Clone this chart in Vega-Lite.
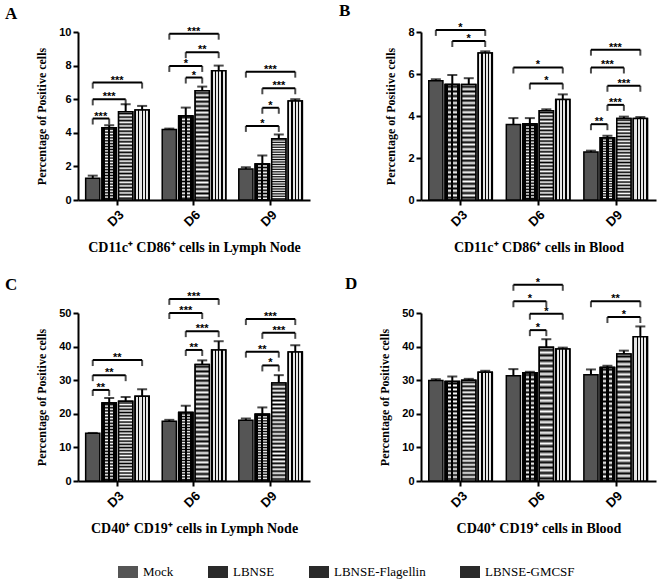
{
  "$schema": "https://vega.github.io/schema/vega-lite/v6.json",
  "background": "white",
  "padding": {"left": 5, "top": 1, "right": 5, "bottom": 5},
  "datasets": {
    "bars": [
      {"panel":"A","day":"D3","treatment":"Mock","mean":1.3,"upper":1.45},
      {"panel":"A","day":"D3","treatment":"LBNSE","mean":4.3,"upper":4.45},
      {"panel":"A","day":"D3","treatment":"LBNSE-Flagellin","mean":5.25,"upper":5.7},
      {"panel":"A","day":"D3","treatment":"LBNSE-GMCSF","mean":5.35,"upper":5.6},
      {"panel":"A","day":"D6","treatment":"Mock","mean":4.2,"upper":4.25},
      {"panel":"A","day":"D6","treatment":"LBNSE","mean":5.0,"upper":5.5},
      {"panel":"A","day":"D6","treatment":"LBNSE-Flagellin","mean":6.5,"upper":6.75},
      {"panel":"A","day":"D6","treatment":"LBNSE-GMCSF","mean":7.7,"upper":8.0},
      {"panel":"A","day":"D9","treatment":"Mock","mean":1.85,"upper":1.95},
      {"panel":"A","day":"D9","treatment":"LBNSE","mean":2.15,"upper":2.65},
      {"panel":"A","day":"D9","treatment":"LBNSE-Flagellin","mean":3.65,"upper":3.9},
      {"panel":"A","day":"D9","treatment":"LBNSE-GMCSF","mean":5.9,"upper":6.0},
      {"panel":"B","day":"D3","treatment":"Mock","mean":5.68,"upper":5.75},
      {"panel":"B","day":"D3","treatment":"LBNSE","mean":5.5,"upper":5.95},
      {"panel":"B","day":"D3","treatment":"LBNSE-Flagellin","mean":5.5,"upper":5.8},
      {"panel":"B","day":"D3","treatment":"LBNSE-GMCSF","mean":7.0,"upper":7.08},
      {"panel":"B","day":"D6","treatment":"Mock","mean":3.6,"upper":3.9},
      {"panel":"B","day":"D6","treatment":"LBNSE","mean":3.62,"upper":3.9},
      {"panel":"B","day":"D6","treatment":"LBNSE-Flagellin","mean":4.25,"upper":4.32},
      {"panel":"B","day":"D6","treatment":"LBNSE-GMCSF","mean":4.78,"upper":5.03},
      {"panel":"B","day":"D9","treatment":"Mock","mean":2.28,"upper":2.35},
      {"panel":"B","day":"D9","treatment":"LBNSE","mean":2.97,"upper":3.06},
      {"panel":"B","day":"D9","treatment":"LBNSE-Flagellin","mean":3.88,"upper":3.97},
      {"panel":"B","day":"D9","treatment":"LBNSE-GMCSF","mean":3.88,"upper":3.95},
      {"panel":"C","day":"D3","treatment":"Mock","mean":14.2,"upper":14.3},
      {"panel":"C","day":"D3","treatment":"LBNSE","mean":23.2,"upper":24.7},
      {"panel":"C","day":"D3","treatment":"LBNSE-Flagellin","mean":23.7,"upper":25.0},
      {"panel":"C","day":"D3","treatment":"LBNSE-GMCSF","mean":25.2,"upper":27.3},
      {"panel":"C","day":"D6","treatment":"Mock","mean":17.75,"upper":18.2},
      {"panel":"C","day":"D6","treatment":"LBNSE","mean":20.4,"upper":22.4},
      {"panel":"C","day":"D6","treatment":"LBNSE-Flagellin","mean":34.7,"upper":35.9},
      {"panel":"C","day":"D6","treatment":"LBNSE-GMCSF","mean":39.0,"upper":41.6},
      {"panel":"C","day":"D9","treatment":"Mock","mean":18.1,"upper":18.6},
      {"panel":"C","day":"D9","treatment":"LBNSE","mean":19.9,"upper":21.9},
      {"panel":"C","day":"D9","treatment":"LBNSE-Flagellin","mean":29.2,"upper":31.5},
      {"panel":"C","day":"D9","treatment":"LBNSE-GMCSF","mean":38.4,"upper":40.4},
      {"panel":"D","day":"D3","treatment":"Mock","mean":29.9,"upper":30.3},
      {"panel":"D","day":"D3","treatment":"LBNSE","mean":29.6,"upper":31.1},
      {"panel":"D","day":"D3","treatment":"LBNSE-Flagellin","mean":30.0,"upper":30.4},
      {"panel":"D","day":"D3","treatment":"LBNSE-GMCSF","mean":32.4,"upper":32.8},
      {"panel":"D","day":"D6","treatment":"Mock","mean":31.3,"upper":33.3},
      {"panel":"D","day":"D6","treatment":"LBNSE","mean":32.2,"upper":32.5},
      {"panel":"D","day":"D6","treatment":"LBNSE-Flagellin","mean":39.8,"upper":42.2},
      {"panel":"D","day":"D6","treatment":"LBNSE-GMCSF","mean":39.3,"upper":39.7},
      {"panel":"D","day":"D9","treatment":"Mock","mean":31.6,"upper":33.2},
      {"panel":"D","day":"D9","treatment":"LBNSE","mean":33.8,"upper":34.3},
      {"panel":"D","day":"D9","treatment":"LBNSE-Flagellin","mean":37.8,"upper":38.8},
      {"panel":"D","day":"D9","treatment":"LBNSE-GMCSF","mean":42.9,"upper":46.0}
    ],
    "sig": [
      {"panel":"A","day":"D3","from":"Mock","to":"LBNSE","h":4.85,"label":"***"},
      {"panel":"A","day":"D3","from":"Mock","to":"LBNSE-Flagellin","h":5.99,"label":"***"},
      {"panel":"A","day":"D3","from":"Mock","to":"LBNSE-GMCSF","h":6.99,"label":"***"},
      {"panel":"A","day":"D6","from":"Mock","to":"LBNSE-GMCSF","h":9.9,"label":"***"},
      {"panel":"A","day":"D6","from":"LBNSE","to":"LBNSE-GMCSF","h":8.8,"label":"**"},
      {"panel":"A","day":"D6","from":"Mock","to":"LBNSE-Flagellin","h":7.98,"label":"*"},
      {"panel":"A","day":"D6","from":"LBNSE","to":"LBNSE-Flagellin","h":7.29,"label":"*"},
      {"panel":"A","day":"D9","from":"Mock","to":"LBNSE-GMCSF","h":7.64,"label":"***"},
      {"panel":"A","day":"D9","from":"LBNSE","to":"LBNSE-GMCSF","h":6.65,"label":"***"},
      {"panel":"A","day":"D9","from":"LBNSE","to":"LBNSE-Flagellin","h":5.49,"label":"*"},
      {"panel":"A","day":"D9","from":"Mock","to":"LBNSE-Flagellin","h":4.41,"label":"*"},
      {"panel":"B","day":"D3","from":"Mock","to":"LBNSE-GMCSF","h":8.1,"label":"*"},
      {"panel":"B","day":"D3","from":"LBNSE","to":"LBNSE-GMCSF","h":7.57,"label":"*"},
      {"panel":"B","day":"D6","from":"Mock","to":"LBNSE-GMCSF","h":6.31,"label":"*"},
      {"panel":"B","day":"D6","from":"LBNSE","to":"LBNSE-GMCSF","h":5.55,"label":"*"},
      {"panel":"B","day":"D9","from":"Mock","to":"LBNSE-GMCSF","h":7.16,"label":"***"},
      {"panel":"B","day":"D9","from":"Mock","to":"LBNSE-Flagellin","h":6.31,"label":"***"},
      {"panel":"B","day":"D9","from":"LBNSE","to":"LBNSE-GMCSF","h":5.44,"label":"***"},
      {"panel":"B","day":"D9","from":"LBNSE","to":"LBNSE-Flagellin","h":4.53,"label":"***"},
      {"panel":"B","day":"D9","from":"Mock","to":"LBNSE","h":3.61,"label":"**"},
      {"panel":"C","day":"D3","from":"Mock","to":"LBNSE","h":27.1,"label":"**"},
      {"panel":"C","day":"D3","from":"Mock","to":"LBNSE-Flagellin","h":31.5,"label":"**"},
      {"panel":"C","day":"D3","from":"Mock","to":"LBNSE-GMCSF","h":36.0,"label":"**"},
      {"panel":"C","day":"D6","from":"Mock","to":"LBNSE-GMCSF","h":54.2,"label":"***"},
      {"panel":"C","day":"D6","from":"Mock","to":"LBNSE-Flagellin","h":50.0,"label":"***"},
      {"panel":"C","day":"D6","from":"LBNSE","to":"LBNSE-GMCSF","h":44.6,"label":"***"},
      {"panel":"C","day":"D6","from":"LBNSE","to":"LBNSE-Flagellin","h":39.0,"label":"**"},
      {"panel":"C","day":"D9","from":"Mock","to":"LBNSE-GMCSF","h":48.2,"label":"***"},
      {"panel":"C","day":"D9","from":"LBNSE","to":"LBNSE-GMCSF","h":44.1,"label":"***"},
      {"panel":"C","day":"D9","from":"Mock","to":"LBNSE-Flagellin","h":38.5,"label":"**"},
      {"panel":"C","day":"D9","from":"LBNSE","to":"LBNSE-Flagellin","h":34.4,"label":"*"},
      {"panel":"D","day":"D6","from":"Mock","to":"LBNSE-GMCSF","h":58.4,"label":"*"},
      {"panel":"D","day":"D6","from":"Mock","to":"LBNSE-Flagellin","h":53.5,"label":"*"},
      {"panel":"D","day":"D6","from":"LBNSE","to":"LBNSE-GMCSF","h":49.8,"label":"*"},
      {"panel":"D","day":"D6","from":"LBNSE","to":"LBNSE-Flagellin","h":44.9,"label":"*"},
      {"panel":"D","day":"D9","from":"Mock","to":"LBNSE-GMCSF","h":53.5,"label":"**"},
      {"panel":"D","day":"D9","from":"LBNSE","to":"LBNSE-GMCSF","h":48.8,"label":"*"}
    ]
  },
  "columns": 2,
  "spacing": {"row": 113, "column": 111},
  "bounds": "flush",
  "concat": [
    {
      "width": 232, "height": 168,
      "title": {"text": "A", "dx": -73, "dy": 1},
      "encoding": {
        "x": {"field": "day", "type": "nominal", "scale": {"paddingInner": 0.17, "paddingOuter": 0.1}, "axis": {"title": "CD11c⁺ CD86⁺ cells in Lymph Node"}},
        "xOffset": {"field": "treatment", "type": "nominal", "scale": {"domain": ["Mock","LBNSE","LBNSE-Flagellin","LBNSE-GMCSF"], "paddingInner": 0.14, "paddingOuter": 0}},
        "y": {"field": "mean", "type": "quantitative", "scale": {"domain": [0, 10], "nice": false}, "axis": {"title": "Percentage of Positive cells", "values": [0,2,4,6,8,10]}}
      },
      "layer": [
        {"data": {"name": "bars"}, "transform": [{"filter": "datum.panel == 'A'"}], "layer": [
          {"mark": {"type": "bar", "stroke": "black", "strokeWidth": 1.5}, "encoding": {"color": {"field": "treatment", "type": "nominal", "scale": {"domain": ["Mock","LBNSE","LBNSE-Flagellin","LBNSE-GMCSF"], "range": ["#555555","#2a2a2a","#2a2a2a","#2a2a2a"]}, "legend": {"title": null, "orient": "none", "legendX": 40, "legendY": 530, "direction": "horizontal"}}}},
          {"transform": [{"filter": "datum.treatment == 'LBNSE' || datum.treatment == 'LBNSE-Flagellin'"}], "mark": {"type": "bar", "stroke": "black", "strokeWidth": 1.5, "fill": {"gradient": "linear", "x1": 0, "y1": 0, "x2": 0, "y2": 1, "stops": [{"offset": 0, "color": "#ffffff"}, {"offset": 0.02, "color": "#000000"}, {"offset": 0.04, "color": "#ffffff"}, {"offset": 0.06, "color": "#000000"}, {"offset": 0.08, "color": "#ffffff"}, {"offset": 0.1, "color": "#000000"}, {"offset": 0.12, "color": "#ffffff"}, {"offset": 0.14, "color": "#000000"}, {"offset": 0.16, "color": "#ffffff"}, {"offset": 0.18, "color": "#000000"}, {"offset": 0.2, "color": "#ffffff"}, {"offset": 0.22, "color": "#000000"}, {"offset": 0.24, "color": "#ffffff"}, {"offset": 0.26, "color": "#000000"}, {"offset": 0.28, "color": "#ffffff"}, {"offset": 0.3, "color": "#000000"}, {"offset": 0.32, "color": "#ffffff"}, {"offset": 0.34, "color": "#000000"}, {"offset": 0.36, "color": "#ffffff"}, {"offset": 0.38, "color": "#000000"}, {"offset": 0.4, "color": "#ffffff"}, {"offset": 0.42, "color": "#000000"}, {"offset": 0.44, "color": "#ffffff"}, {"offset": 0.46, "color": "#000000"}, {"offset": 0.48, "color": "#ffffff"}, {"offset": 0.5, "color": "#000000"}, {"offset": 0.52, "color": "#ffffff"}, {"offset": 0.54, "color": "#000000"}, {"offset": 0.56, "color": "#ffffff"}, {"offset": 0.58, "color": "#000000"}, {"offset": 0.6, "color": "#ffffff"}, {"offset": 0.62, "color": "#000000"}, {"offset": 0.64, "color": "#ffffff"}, {"offset": 0.66, "color": "#000000"}, {"offset": 0.68, "color": "#ffffff"}, {"offset": 0.7, "color": "#000000"}, {"offset": 0.72, "color": "#ffffff"}, {"offset": 0.74, "color": "#000000"}, {"offset": 0.76, "color": "#ffffff"}, {"offset": 0.78, "color": "#000000"}, {"offset": 0.8, "color": "#ffffff"}, {"offset": 0.82, "color": "#000000"}, {"offset": 0.84, "color": "#ffffff"}, {"offset": 0.86, "color": "#000000"}, {"offset": 0.88, "color": "#ffffff"}, {"offset": 0.9, "color": "#000000"}, {"offset": 0.92, "color": "#ffffff"}, {"offset": 0.94, "color": "#000000"}, {"offset": 0.96, "color": "#ffffff"}, {"offset": 0.98, "color": "#000000"}, {"offset": 1, "color": "#ffffff"}]}}},
          {"transform": [{"filter": "datum.treatment == 'LBNSE'"}], "mark": {"type": "bar", "stroke": "black", "strokeWidth": 1.5, "fill": {"gradient": "linear", "x1": 0, "y1": 0, "x2": 1, "y2": 0, "stops": [{"offset": 0, "color": "#000000"}, {"offset": 0.2, "color": "#000000"}, {"offset": 0.2, "color": "rgba(0,0,0,0)"}, {"offset": 0.42, "color": "rgba(0,0,0,0)"}, {"offset": 0.42, "color": "#000000"}, {"offset": 0.58, "color": "#000000"}, {"offset": 0.58, "color": "rgba(0,0,0,0)"}, {"offset": 0.8, "color": "rgba(0,0,0,0)"}, {"offset": 0.8, "color": "#000000"}, {"offset": 1, "color": "#000000"}]}}},
          {"transform": [{"filter": "datum.treatment == 'LBNSE-GMCSF'"}], "mark": {"type": "bar", "stroke": "black", "strokeWidth": 1.5, "fill": {"gradient": "linear", "x1": 0, "y1": 0, "x2": 1, "y2": 0, "stops": [{"offset": 0, "color": "#000000"}, {"offset": 0.08, "color": "#000000"}, {"offset": 0.08, "color": "#e6e6e6"}, {"offset": 0.23, "color": "#e6e6e6"}, {"offset": 0.23, "color": "#000000"}, {"offset": 0.31, "color": "#000000"}, {"offset": 0.31, "color": "#e6e6e6"}, {"offset": 0.46, "color": "#e6e6e6"}, {"offset": 0.46, "color": "#000000"}, {"offset": 0.54, "color": "#000000"}, {"offset": 0.54, "color": "#e6e6e6"}, {"offset": 0.69, "color": "#e6e6e6"}, {"offset": 0.69, "color": "#000000"}, {"offset": 0.77, "color": "#000000"}, {"offset": 0.77, "color": "#e6e6e6"}, {"offset": 0.92, "color": "#e6e6e6"}, {"offset": 0.92, "color": "#000000"}, {"offset": 1, "color": "#000000"}]}}},
          {"mark": {"type": "rule", "color": "black", "strokeWidth": 2}, "encoding": {"y2": {"field": "upper"}}},
          {"mark": {"type": "tick", "orient": "horizontal", "size": 10, "thickness": 2, "color": "black"}, "encoding": {"y": {"field": "upper", "type": "quantitative", "scale": {"domain": [0, 10], "nice": false}}}}
        ]},
        {"data": {"name": "sig"}, "transform": [{"filter": "datum.panel == 'A'"}], "encoding": {"y": {"field": "h", "type": "quantitative", "scale": {"domain": [0, 10], "nice": false}}}, "layer": [
          {"transform": [{"fold": ["from","to"], "as": ["end","treatment"]}], "layer": [
            {"mark": {"type": "line", "color": "black", "strokeWidth": 2}, "encoding": {"detail": [{"field": "day", "type": "nominal"}, {"field": "from", "type": "nominal"}, {"field": "to", "type": "nominal"}]}},
            {"mark": {"type": "tick", "orient": "vertical", "size": 6, "thickness": 2, "color": "black", "yOffset": 3}}
          ]},
          {"transform": [{"calculate": "(indexof(['Mock','LBNSE','LBNSE-Flagellin','LBNSE-GMCSF'], datum.from) + indexof(['Mock','LBNSE','LBNSE-Flagellin','LBNSE-GMCSF'], datum.to)) / 2", "as": "m"}, {"calculate": "['Mock','LBNSE','LBNSE-Flagellin','LBNSE-GMCSF'][floor(datum.m)]", "as": "mid"}, {"filter": "datum.m % 1 == 0"}], "mark": {"type": "text", "font": "Liberation Sans", "fontWeight": "bold", "fontSize": 11, "baseline": "alphabetic", "dy": 1, "color": "black"}, "encoding": {"xOffset": {"field": "mid", "type": "nominal", "scale": {"domain": ["Mock","LBNSE","LBNSE-Flagellin","LBNSE-GMCSF"]}}, "text": {"field": "label"}}},
          {"transform": [{"calculate": "(indexof(['Mock','LBNSE','LBNSE-Flagellin','LBNSE-GMCSF'], datum.from) + indexof(['Mock','LBNSE','LBNSE-Flagellin','LBNSE-GMCSF'], datum.to)) / 2", "as": "m"}, {"calculate": "['Mock','LBNSE','LBNSE-Flagellin','LBNSE-GMCSF'][floor(datum.m)]", "as": "mid"}, {"filter": "datum.m % 1 != 0"}], "mark": {"type": "text", "font": "Liberation Sans", "fontWeight": "bold", "fontSize": 11, "baseline": "alphabetic", "dy": 1, "dx": 8, "color": "black"}, "encoding": {"xOffset": {"field": "mid", "type": "nominal", "scale": {"domain": ["Mock","LBNSE","LBNSE-Flagellin","LBNSE-GMCSF"]}}, "text": {"field": "label"}}}
        ]}
      ]
    },
    {
      "width": 235, "height": 168,
      "title": {"text": "B", "dx": -82, "dy": 2},
      "encoding": {
        "x": {"field": "day", "type": "nominal", "scale": {"paddingInner": 0.17, "paddingOuter": 0.1}, "axis": {"title": "CD11c⁺ CD86⁺ cells in Blood"}},
        "xOffset": {"field": "treatment", "type": "nominal", "scale": {"domain": ["Mock","LBNSE","LBNSE-Flagellin","LBNSE-GMCSF"], "paddingInner": 0.14, "paddingOuter": 0}},
        "y": {"field": "mean", "type": "quantitative", "scale": {"domain": [0, 8], "nice": false}, "axis": {"title": "Percentage of Positive cells", "values": [0,2,4,6,8]}}
      },
      "layer": [
        {"data": {"name": "bars"}, "transform": [{"filter": "datum.panel == 'B'"}], "layer": [
          {"mark": {"type": "bar", "stroke": "black", "strokeWidth": 1.5}, "encoding": {"color": {"field": "treatment", "type": "nominal", "scale": {"domain": ["Mock","LBNSE","LBNSE-Flagellin","LBNSE-GMCSF"], "range": ["#555555","#2a2a2a","#2a2a2a","#2a2a2a"]}, "legend": {"title": null, "orient": "none", "legendX": 40, "legendY": 530, "direction": "horizontal"}}}},
          {"transform": [{"filter": "datum.treatment == 'LBNSE' || datum.treatment == 'LBNSE-Flagellin'"}], "mark": {"type": "bar", "stroke": "black", "strokeWidth": 1.5, "fill": {"gradient": "linear", "x1": 0, "y1": 0, "x2": 0, "y2": 1, "stops": [{"offset": 0, "color": "#ffffff"}, {"offset": 0.02, "color": "#000000"}, {"offset": 0.04, "color": "#ffffff"}, {"offset": 0.06, "color": "#000000"}, {"offset": 0.08, "color": "#ffffff"}, {"offset": 0.1, "color": "#000000"}, {"offset": 0.12, "color": "#ffffff"}, {"offset": 0.14, "color": "#000000"}, {"offset": 0.16, "color": "#ffffff"}, {"offset": 0.18, "color": "#000000"}, {"offset": 0.2, "color": "#ffffff"}, {"offset": 0.22, "color": "#000000"}, {"offset": 0.24, "color": "#ffffff"}, {"offset": 0.26, "color": "#000000"}, {"offset": 0.28, "color": "#ffffff"}, {"offset": 0.3, "color": "#000000"}, {"offset": 0.32, "color": "#ffffff"}, {"offset": 0.34, "color": "#000000"}, {"offset": 0.36, "color": "#ffffff"}, {"offset": 0.38, "color": "#000000"}, {"offset": 0.4, "color": "#ffffff"}, {"offset": 0.42, "color": "#000000"}, {"offset": 0.44, "color": "#ffffff"}, {"offset": 0.46, "color": "#000000"}, {"offset": 0.48, "color": "#ffffff"}, {"offset": 0.5, "color": "#000000"}, {"offset": 0.52, "color": "#ffffff"}, {"offset": 0.54, "color": "#000000"}, {"offset": 0.56, "color": "#ffffff"}, {"offset": 0.58, "color": "#000000"}, {"offset": 0.6, "color": "#ffffff"}, {"offset": 0.62, "color": "#000000"}, {"offset": 0.64, "color": "#ffffff"}, {"offset": 0.66, "color": "#000000"}, {"offset": 0.68, "color": "#ffffff"}, {"offset": 0.7, "color": "#000000"}, {"offset": 0.72, "color": "#ffffff"}, {"offset": 0.74, "color": "#000000"}, {"offset": 0.76, "color": "#ffffff"}, {"offset": 0.78, "color": "#000000"}, {"offset": 0.8, "color": "#ffffff"}, {"offset": 0.82, "color": "#000000"}, {"offset": 0.84, "color": "#ffffff"}, {"offset": 0.86, "color": "#000000"}, {"offset": 0.88, "color": "#ffffff"}, {"offset": 0.9, "color": "#000000"}, {"offset": 0.92, "color": "#ffffff"}, {"offset": 0.94, "color": "#000000"}, {"offset": 0.96, "color": "#ffffff"}, {"offset": 0.98, "color": "#000000"}, {"offset": 1, "color": "#ffffff"}]}}},
          {"transform": [{"filter": "datum.treatment == 'LBNSE'"}], "mark": {"type": "bar", "stroke": "black", "strokeWidth": 1.5, "fill": {"gradient": "linear", "x1": 0, "y1": 0, "x2": 1, "y2": 0, "stops": [{"offset": 0, "color": "#000000"}, {"offset": 0.2, "color": "#000000"}, {"offset": 0.2, "color": "rgba(0,0,0,0)"}, {"offset": 0.42, "color": "rgba(0,0,0,0)"}, {"offset": 0.42, "color": "#000000"}, {"offset": 0.58, "color": "#000000"}, {"offset": 0.58, "color": "rgba(0,0,0,0)"}, {"offset": 0.8, "color": "rgba(0,0,0,0)"}, {"offset": 0.8, "color": "#000000"}, {"offset": 1, "color": "#000000"}]}}},
          {"transform": [{"filter": "datum.treatment == 'LBNSE-GMCSF'"}], "mark": {"type": "bar", "stroke": "black", "strokeWidth": 1.5, "fill": {"gradient": "linear", "x1": 0, "y1": 0, "x2": 1, "y2": 0, "stops": [{"offset": 0, "color": "#000000"}, {"offset": 0.08, "color": "#000000"}, {"offset": 0.08, "color": "#e6e6e6"}, {"offset": 0.23, "color": "#e6e6e6"}, {"offset": 0.23, "color": "#000000"}, {"offset": 0.31, "color": "#000000"}, {"offset": 0.31, "color": "#e6e6e6"}, {"offset": 0.46, "color": "#e6e6e6"}, {"offset": 0.46, "color": "#000000"}, {"offset": 0.54, "color": "#000000"}, {"offset": 0.54, "color": "#e6e6e6"}, {"offset": 0.69, "color": "#e6e6e6"}, {"offset": 0.69, "color": "#000000"}, {"offset": 0.77, "color": "#000000"}, {"offset": 0.77, "color": "#e6e6e6"}, {"offset": 0.92, "color": "#e6e6e6"}, {"offset": 0.92, "color": "#000000"}, {"offset": 1, "color": "#000000"}]}}},
          {"mark": {"type": "rule", "color": "black", "strokeWidth": 2}, "encoding": {"y2": {"field": "upper"}}},
          {"mark": {"type": "tick", "orient": "horizontal", "size": 10, "thickness": 2, "color": "black"}, "encoding": {"y": {"field": "upper", "type": "quantitative", "scale": {"domain": [0, 8], "nice": false}}}}
        ]},
        {"data": {"name": "sig"}, "transform": [{"filter": "datum.panel == 'B'"}], "encoding": {"y": {"field": "h", "type": "quantitative", "scale": {"domain": [0, 8], "nice": false}}}, "layer": [
          {"transform": [{"fold": ["from","to"], "as": ["end","treatment"]}], "layer": [
            {"mark": {"type": "line", "color": "black", "strokeWidth": 2}, "encoding": {"detail": [{"field": "day", "type": "nominal"}, {"field": "from", "type": "nominal"}, {"field": "to", "type": "nominal"}]}},
            {"mark": {"type": "tick", "orient": "vertical", "size": 6, "thickness": 2, "color": "black", "yOffset": 3}}
          ]},
          {"transform": [{"calculate": "(indexof(['Mock','LBNSE','LBNSE-Flagellin','LBNSE-GMCSF'], datum.from) + indexof(['Mock','LBNSE','LBNSE-Flagellin','LBNSE-GMCSF'], datum.to)) / 2", "as": "m"}, {"calculate": "['Mock','LBNSE','LBNSE-Flagellin','LBNSE-GMCSF'][floor(datum.m)]", "as": "mid"}, {"filter": "datum.m % 1 == 0"}], "mark": {"type": "text", "font": "Liberation Sans", "fontWeight": "bold", "fontSize": 11, "baseline": "alphabetic", "dy": 1, "color": "black"}, "encoding": {"xOffset": {"field": "mid", "type": "nominal", "scale": {"domain": ["Mock","LBNSE","LBNSE-Flagellin","LBNSE-GMCSF"]}}, "text": {"field": "label"}}},
          {"transform": [{"calculate": "(indexof(['Mock','LBNSE','LBNSE-Flagellin','LBNSE-GMCSF'], datum.from) + indexof(['Mock','LBNSE','LBNSE-Flagellin','LBNSE-GMCSF'], datum.to)) / 2", "as": "m"}, {"calculate": "['Mock','LBNSE','LBNSE-Flagellin','LBNSE-GMCSF'][floor(datum.m)]", "as": "mid"}, {"filter": "datum.m % 1 != 0"}], "mark": {"type": "text", "font": "Liberation Sans", "fontWeight": "bold", "fontSize": 11, "baseline": "alphabetic", "dy": 1, "dx": 8, "color": "black"}, "encoding": {"xOffset": {"field": "mid", "type": "nominal", "scale": {"domain": ["Mock","LBNSE","LBNSE-Flagellin","LBNSE-GMCSF"]}}, "text": {"field": "label"}}}
        ]}
      ]
    },
    {
      "width": 232, "height": 168,
      "title": {"text": "C", "dx": -73, "dy": 7},
      "encoding": {
        "x": {"field": "day", "type": "nominal", "scale": {"paddingInner": 0.17, "paddingOuter": 0.1}, "axis": {"title": "CD40⁺ CD19⁺ cells in Lymph Node"}},
        "xOffset": {"field": "treatment", "type": "nominal", "scale": {"domain": ["Mock","LBNSE","LBNSE-Flagellin","LBNSE-GMCSF"], "paddingInner": 0.14, "paddingOuter": 0}},
        "y": {"field": "mean", "type": "quantitative", "scale": {"domain": [0, 50], "nice": false}, "axis": {"title": "Percentage of Positive cells", "values": [0,10,20,30,40,50]}}
      },
      "layer": [
        {"data": {"name": "bars"}, "transform": [{"filter": "datum.panel == 'C'"}], "layer": [
          {"mark": {"type": "bar", "stroke": "black", "strokeWidth": 1.5}, "encoding": {"color": {"field": "treatment", "type": "nominal", "scale": {"domain": ["Mock","LBNSE","LBNSE-Flagellin","LBNSE-GMCSF"], "range": ["#555555","#2a2a2a","#2a2a2a","#2a2a2a"]}, "legend": {"title": null, "orient": "none", "legendX": 40, "legendY": 530, "direction": "horizontal"}}}},
          {"transform": [{"filter": "datum.treatment == 'LBNSE' || datum.treatment == 'LBNSE-Flagellin'"}], "mark": {"type": "bar", "stroke": "black", "strokeWidth": 1.5, "fill": {"gradient": "linear", "x1": 0, "y1": 0, "x2": 0, "y2": 1, "stops": [{"offset": 0, "color": "#ffffff"}, {"offset": 0.02, "color": "#000000"}, {"offset": 0.04, "color": "#ffffff"}, {"offset": 0.06, "color": "#000000"}, {"offset": 0.08, "color": "#ffffff"}, {"offset": 0.1, "color": "#000000"}, {"offset": 0.12, "color": "#ffffff"}, {"offset": 0.14, "color": "#000000"}, {"offset": 0.16, "color": "#ffffff"}, {"offset": 0.18, "color": "#000000"}, {"offset": 0.2, "color": "#ffffff"}, {"offset": 0.22, "color": "#000000"}, {"offset": 0.24, "color": "#ffffff"}, {"offset": 0.26, "color": "#000000"}, {"offset": 0.28, "color": "#ffffff"}, {"offset": 0.3, "color": "#000000"}, {"offset": 0.32, "color": "#ffffff"}, {"offset": 0.34, "color": "#000000"}, {"offset": 0.36, "color": "#ffffff"}, {"offset": 0.38, "color": "#000000"}, {"offset": 0.4, "color": "#ffffff"}, {"offset": 0.42, "color": "#000000"}, {"offset": 0.44, "color": "#ffffff"}, {"offset": 0.46, "color": "#000000"}, {"offset": 0.48, "color": "#ffffff"}, {"offset": 0.5, "color": "#000000"}, {"offset": 0.52, "color": "#ffffff"}, {"offset": 0.54, "color": "#000000"}, {"offset": 0.56, "color": "#ffffff"}, {"offset": 0.58, "color": "#000000"}, {"offset": 0.6, "color": "#ffffff"}, {"offset": 0.62, "color": "#000000"}, {"offset": 0.64, "color": "#ffffff"}, {"offset": 0.66, "color": "#000000"}, {"offset": 0.68, "color": "#ffffff"}, {"offset": 0.7, "color": "#000000"}, {"offset": 0.72, "color": "#ffffff"}, {"offset": 0.74, "color": "#000000"}, {"offset": 0.76, "color": "#ffffff"}, {"offset": 0.78, "color": "#000000"}, {"offset": 0.8, "color": "#ffffff"}, {"offset": 0.82, "color": "#000000"}, {"offset": 0.84, "color": "#ffffff"}, {"offset": 0.86, "color": "#000000"}, {"offset": 0.88, "color": "#ffffff"}, {"offset": 0.9, "color": "#000000"}, {"offset": 0.92, "color": "#ffffff"}, {"offset": 0.94, "color": "#000000"}, {"offset": 0.96, "color": "#ffffff"}, {"offset": 0.98, "color": "#000000"}, {"offset": 1, "color": "#ffffff"}]}}},
          {"transform": [{"filter": "datum.treatment == 'LBNSE'"}], "mark": {"type": "bar", "stroke": "black", "strokeWidth": 1.5, "fill": {"gradient": "linear", "x1": 0, "y1": 0, "x2": 1, "y2": 0, "stops": [{"offset": 0, "color": "#000000"}, {"offset": 0.2, "color": "#000000"}, {"offset": 0.2, "color": "rgba(0,0,0,0)"}, {"offset": 0.42, "color": "rgba(0,0,0,0)"}, {"offset": 0.42, "color": "#000000"}, {"offset": 0.58, "color": "#000000"}, {"offset": 0.58, "color": "rgba(0,0,0,0)"}, {"offset": 0.8, "color": "rgba(0,0,0,0)"}, {"offset": 0.8, "color": "#000000"}, {"offset": 1, "color": "#000000"}]}}},
          {"transform": [{"filter": "datum.treatment == 'LBNSE-GMCSF'"}], "mark": {"type": "bar", "stroke": "black", "strokeWidth": 1.5, "fill": {"gradient": "linear", "x1": 0, "y1": 0, "x2": 1, "y2": 0, "stops": [{"offset": 0, "color": "#000000"}, {"offset": 0.08, "color": "#000000"}, {"offset": 0.08, "color": "#e6e6e6"}, {"offset": 0.23, "color": "#e6e6e6"}, {"offset": 0.23, "color": "#000000"}, {"offset": 0.31, "color": "#000000"}, {"offset": 0.31, "color": "#e6e6e6"}, {"offset": 0.46, "color": "#e6e6e6"}, {"offset": 0.46, "color": "#000000"}, {"offset": 0.54, "color": "#000000"}, {"offset": 0.54, "color": "#e6e6e6"}, {"offset": 0.69, "color": "#e6e6e6"}, {"offset": 0.69, "color": "#000000"}, {"offset": 0.77, "color": "#000000"}, {"offset": 0.77, "color": "#e6e6e6"}, {"offset": 0.92, "color": "#e6e6e6"}, {"offset": 0.92, "color": "#000000"}, {"offset": 1, "color": "#000000"}]}}},
          {"mark": {"type": "rule", "color": "black", "strokeWidth": 2}, "encoding": {"y2": {"field": "upper"}}},
          {"mark": {"type": "tick", "orient": "horizontal", "size": 10, "thickness": 2, "color": "black"}, "encoding": {"y": {"field": "upper", "type": "quantitative", "scale": {"domain": [0, 50], "nice": false}}}}
        ]},
        {"data": {"name": "sig"}, "transform": [{"filter": "datum.panel == 'C'"}], "encoding": {"y": {"field": "h", "type": "quantitative", "scale": {"domain": [0, 50], "nice": false}}}, "layer": [
          {"transform": [{"fold": ["from","to"], "as": ["end","treatment"]}], "layer": [
            {"mark": {"type": "line", "color": "black", "strokeWidth": 2}, "encoding": {"detail": [{"field": "day", "type": "nominal"}, {"field": "from", "type": "nominal"}, {"field": "to", "type": "nominal"}]}},
            {"mark": {"type": "tick", "orient": "vertical", "size": 6, "thickness": 2, "color": "black", "yOffset": 3}}
          ]},
          {"transform": [{"calculate": "(indexof(['Mock','LBNSE','LBNSE-Flagellin','LBNSE-GMCSF'], datum.from) + indexof(['Mock','LBNSE','LBNSE-Flagellin','LBNSE-GMCSF'], datum.to)) / 2", "as": "m"}, {"calculate": "['Mock','LBNSE','LBNSE-Flagellin','LBNSE-GMCSF'][floor(datum.m)]", "as": "mid"}, {"filter": "datum.m % 1 == 0"}], "mark": {"type": "text", "font": "Liberation Sans", "fontWeight": "bold", "fontSize": 11, "baseline": "alphabetic", "dy": 1, "color": "black"}, "encoding": {"xOffset": {"field": "mid", "type": "nominal", "scale": {"domain": ["Mock","LBNSE","LBNSE-Flagellin","LBNSE-GMCSF"]}}, "text": {"field": "label"}}},
          {"transform": [{"calculate": "(indexof(['Mock','LBNSE','LBNSE-Flagellin','LBNSE-GMCSF'], datum.from) + indexof(['Mock','LBNSE','LBNSE-Flagellin','LBNSE-GMCSF'], datum.to)) / 2", "as": "m"}, {"calculate": "['Mock','LBNSE','LBNSE-Flagellin','LBNSE-GMCSF'][floor(datum.m)]", "as": "mid"}, {"filter": "datum.m % 1 != 0"}], "mark": {"type": "text", "font": "Liberation Sans", "fontWeight": "bold", "fontSize": 11, "baseline": "alphabetic", "dy": 1, "dx": 8, "color": "black"}, "encoding": {"xOffset": {"field": "mid", "type": "nominal", "scale": {"domain": ["Mock","LBNSE","LBNSE-Flagellin","LBNSE-GMCSF"]}}, "text": {"field": "label"}}}
        ]}
      ]
    },
    {
      "width": 235, "height": 168,
      "title": {"text": "D", "dx": -76, "dy": 20},
      "encoding": {
        "x": {"field": "day", "type": "nominal", "scale": {"paddingInner": 0.17, "paddingOuter": 0.1}, "axis": {"title": "CD40⁺ CD19⁺ cells in Blood"}},
        "xOffset": {"field": "treatment", "type": "nominal", "scale": {"domain": ["Mock","LBNSE","LBNSE-Flagellin","LBNSE-GMCSF"], "paddingInner": 0.14, "paddingOuter": 0}},
        "y": {"field": "mean", "type": "quantitative", "scale": {"domain": [0, 50], "nice": false}, "axis": {"title": "Percentage of Positive cells", "values": [0,10,20,30,40,50]}}
      },
      "layer": [
        {"data": {"name": "bars"}, "transform": [{"filter": "datum.panel == 'D'"}], "layer": [
          {"mark": {"type": "bar", "stroke": "black", "strokeWidth": 1.5}, "encoding": {"color": {"field": "treatment", "type": "nominal", "scale": {"domain": ["Mock","LBNSE","LBNSE-Flagellin","LBNSE-GMCSF"], "range": ["#555555","#2a2a2a","#2a2a2a","#2a2a2a"]}, "legend": {"title": null, "orient": "none", "legendX": 40, "legendY": 530, "direction": "horizontal"}}}},
          {"transform": [{"filter": "datum.treatment == 'LBNSE' || datum.treatment == 'LBNSE-Flagellin'"}], "mark": {"type": "bar", "stroke": "black", "strokeWidth": 1.5, "fill": {"gradient": "linear", "x1": 0, "y1": 0, "x2": 0, "y2": 1, "stops": [{"offset": 0, "color": "#ffffff"}, {"offset": 0.02, "color": "#000000"}, {"offset": 0.04, "color": "#ffffff"}, {"offset": 0.06, "color": "#000000"}, {"offset": 0.08, "color": "#ffffff"}, {"offset": 0.1, "color": "#000000"}, {"offset": 0.12, "color": "#ffffff"}, {"offset": 0.14, "color": "#000000"}, {"offset": 0.16, "color": "#ffffff"}, {"offset": 0.18, "color": "#000000"}, {"offset": 0.2, "color": "#ffffff"}, {"offset": 0.22, "color": "#000000"}, {"offset": 0.24, "color": "#ffffff"}, {"offset": 0.26, "color": "#000000"}, {"offset": 0.28, "color": "#ffffff"}, {"offset": 0.3, "color": "#000000"}, {"offset": 0.32, "color": "#ffffff"}, {"offset": 0.34, "color": "#000000"}, {"offset": 0.36, "color": "#ffffff"}, {"offset": 0.38, "color": "#000000"}, {"offset": 0.4, "color": "#ffffff"}, {"offset": 0.42, "color": "#000000"}, {"offset": 0.44, "color": "#ffffff"}, {"offset": 0.46, "color": "#000000"}, {"offset": 0.48, "color": "#ffffff"}, {"offset": 0.5, "color": "#000000"}, {"offset": 0.52, "color": "#ffffff"}, {"offset": 0.54, "color": "#000000"}, {"offset": 0.56, "color": "#ffffff"}, {"offset": 0.58, "color": "#000000"}, {"offset": 0.6, "color": "#ffffff"}, {"offset": 0.62, "color": "#000000"}, {"offset": 0.64, "color": "#ffffff"}, {"offset": 0.66, "color": "#000000"}, {"offset": 0.68, "color": "#ffffff"}, {"offset": 0.7, "color": "#000000"}, {"offset": 0.72, "color": "#ffffff"}, {"offset": 0.74, "color": "#000000"}, {"offset": 0.76, "color": "#ffffff"}, {"offset": 0.78, "color": "#000000"}, {"offset": 0.8, "color": "#ffffff"}, {"offset": 0.82, "color": "#000000"}, {"offset": 0.84, "color": "#ffffff"}, {"offset": 0.86, "color": "#000000"}, {"offset": 0.88, "color": "#ffffff"}, {"offset": 0.9, "color": "#000000"}, {"offset": 0.92, "color": "#ffffff"}, {"offset": 0.94, "color": "#000000"}, {"offset": 0.96, "color": "#ffffff"}, {"offset": 0.98, "color": "#000000"}, {"offset": 1, "color": "#ffffff"}]}}},
          {"transform": [{"filter": "datum.treatment == 'LBNSE'"}], "mark": {"type": "bar", "stroke": "black", "strokeWidth": 1.5, "fill": {"gradient": "linear", "x1": 0, "y1": 0, "x2": 1, "y2": 0, "stops": [{"offset": 0, "color": "#000000"}, {"offset": 0.2, "color": "#000000"}, {"offset": 0.2, "color": "rgba(0,0,0,0)"}, {"offset": 0.42, "color": "rgba(0,0,0,0)"}, {"offset": 0.42, "color": "#000000"}, {"offset": 0.58, "color": "#000000"}, {"offset": 0.58, "color": "rgba(0,0,0,0)"}, {"offset": 0.8, "color": "rgba(0,0,0,0)"}, {"offset": 0.8, "color": "#000000"}, {"offset": 1, "color": "#000000"}]}}},
          {"transform": [{"filter": "datum.treatment == 'LBNSE-GMCSF'"}], "mark": {"type": "bar", "stroke": "black", "strokeWidth": 1.5, "fill": {"gradient": "linear", "x1": 0, "y1": 0, "x2": 1, "y2": 0, "stops": [{"offset": 0, "color": "#000000"}, {"offset": 0.08, "color": "#000000"}, {"offset": 0.08, "color": "#e6e6e6"}, {"offset": 0.23, "color": "#e6e6e6"}, {"offset": 0.23, "color": "#000000"}, {"offset": 0.31, "color": "#000000"}, {"offset": 0.31, "color": "#e6e6e6"}, {"offset": 0.46, "color": "#e6e6e6"}, {"offset": 0.46, "color": "#000000"}, {"offset": 0.54, "color": "#000000"}, {"offset": 0.54, "color": "#e6e6e6"}, {"offset": 0.69, "color": "#e6e6e6"}, {"offset": 0.69, "color": "#000000"}, {"offset": 0.77, "color": "#000000"}, {"offset": 0.77, "color": "#e6e6e6"}, {"offset": 0.92, "color": "#e6e6e6"}, {"offset": 0.92, "color": "#000000"}, {"offset": 1, "color": "#000000"}]}}},
          {"mark": {"type": "rule", "color": "black", "strokeWidth": 2}, "encoding": {"y2": {"field": "upper"}}},
          {"mark": {"type": "tick", "orient": "horizontal", "size": 10, "thickness": 2, "color": "black"}, "encoding": {"y": {"field": "upper", "type": "quantitative", "scale": {"domain": [0, 50], "nice": false}}}}
        ]},
        {"data": {"name": "sig"}, "transform": [{"filter": "datum.panel == 'D'"}], "encoding": {"y": {"field": "h", "type": "quantitative", "scale": {"domain": [0, 50], "nice": false}}}, "layer": [
          {"transform": [{"fold": ["from","to"], "as": ["end","treatment"]}], "layer": [
            {"mark": {"type": "line", "color": "black", "strokeWidth": 2}, "encoding": {"detail": [{"field": "day", "type": "nominal"}, {"field": "from", "type": "nominal"}, {"field": "to", "type": "nominal"}]}},
            {"mark": {"type": "tick", "orient": "vertical", "size": 6, "thickness": 2, "color": "black", "yOffset": 3}}
          ]},
          {"transform": [{"calculate": "(indexof(['Mock','LBNSE','LBNSE-Flagellin','LBNSE-GMCSF'], datum.from) + indexof(['Mock','LBNSE','LBNSE-Flagellin','LBNSE-GMCSF'], datum.to)) / 2", "as": "m"}, {"calculate": "['Mock','LBNSE','LBNSE-Flagellin','LBNSE-GMCSF'][floor(datum.m)]", "as": "mid"}, {"filter": "datum.m % 1 == 0"}], "mark": {"type": "text", "font": "Liberation Sans", "fontWeight": "bold", "fontSize": 11, "baseline": "alphabetic", "dy": 1, "color": "black"}, "encoding": {"xOffset": {"field": "mid", "type": "nominal", "scale": {"domain": ["Mock","LBNSE","LBNSE-Flagellin","LBNSE-GMCSF"]}}, "text": {"field": "label"}}},
          {"transform": [{"calculate": "(indexof(['Mock','LBNSE','LBNSE-Flagellin','LBNSE-GMCSF'], datum.from) + indexof(['Mock','LBNSE','LBNSE-Flagellin','LBNSE-GMCSF'], datum.to)) / 2", "as": "m"}, {"calculate": "['Mock','LBNSE','LBNSE-Flagellin','LBNSE-GMCSF'][floor(datum.m)]", "as": "mid"}, {"filter": "datum.m % 1 != 0"}], "mark": {"type": "text", "font": "Liberation Sans", "fontWeight": "bold", "fontSize": 11, "baseline": "alphabetic", "dy": 1, "dx": 8, "color": "black"}, "encoding": {"xOffset": {"field": "mid", "type": "nominal", "scale": {"domain": ["Mock","LBNSE","LBNSE-Flagellin","LBNSE-GMCSF"]}}, "text": {"field": "label"}}}
        ]}
      ]
    }
  ],
  "config": {
    "view": {"stroke": null},
    "font": "Liberation Serif",
    "axis": {"domainColor": "black", "domainWidth": 2, "tickColor": "black", "tickWidth": 2, "tickSize": 5, "labelColor": "black", "labelFont": "Liberation Sans", "labelFontWeight": "bold", "labelFontSize": 11, "titleColor": "black", "titleFont": "Liberation Serif", "titleFontWeight": "bold", "titleFontSize": 12, "grid": false},
    "axisX": {"labelAngle": -45, "labelFontSize": 13, "titleFontSize": 14, "titlePadding": 12, "labelPadding": 3},
    "axisY": {"titlePadding": 10},
    "title": {"font": "Liberation Serif", "fontSize": 17, "fontWeight": "bold", "color": "black", "anchor": "start", "frame": "group", "offset": 4},
    "legend": {"labelFont": "Liberation Serif", "labelFontSize": 13, "labelColor": "black", "symbolType": "M-1,-0.6H1V0.6H-1Z", "symbolSize": 400, "symbolStrokeWidth": 0, "columnPadding": 34, "labelOffset": 5}
  }
}
